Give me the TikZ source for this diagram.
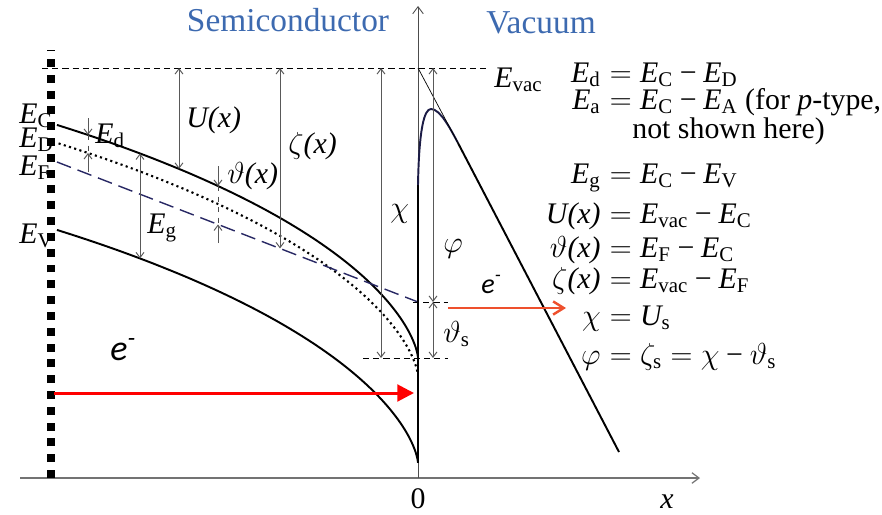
\documentclass[tikz,border=0pt]{standalone}
\usepackage{fontspec}
\setmainfont{Liberation Serif}
\newfontfamily\elecfont{Carlito}
\usetikzlibrary{arrows.meta}

\definecolor{semblue}{RGB}{61,106,176}
\definecolor{fermi}{RGB}{40,40,100}
\definecolor{emit}{RGB}{238,80,45}

\newcommand{\En}[1]{\mathit{E}_{\mathrm{#1}}}
\newcommand{\mi}{\mathbin{\mbox{−}}}

\tikzset{
  band/.style={line width=1.1pt},
  gap/.style={black!65, line width=0.55pt},
  guide/.style={dash pattern=on 3.5pt off 2.3pt, line width=0.45pt},
  lbl/.style={inner sep=0pt},
}

\begin{document}
\begin{tikzpicture}[x=0.02cm,y=-0.02cm,>={Straight Barb[length=3pt,width=4.5pt]},
  font=\fontsize{17}{20}\selectfont,
  declare function={ec(\s)=358+0.46*\s-6.47*\s^0.7; ef(\s)=162+0.3878*(\s-57);}]

\useasboundingbox (0,0) rectangle (882,514);

% Axes
\coordinate (O) at (418,478);
\draw[black!55, line width=0.7pt, -{Straight Barb[length=4pt,width=6pt]}]
    (20,478) -- (O) -- (700,478) coordinate (xend);
\draw[black!70, line width=0.5pt, -{Straight Barb[length=4pt,width=6pt]}]
    (O) -- (418,6) coordinate (yend);
\node[lbl,anchor=base] (zero) at (418,508) {0};
\node[lbl,anchor=base west] (xlab) at (660,508) {\textit{x}};

% Bulk boundary
\draw[line width=4.5pt, dash pattern=on 4.5pt off 4.5pt]
    (51,478) -- (51,50);

% Vacuum level
\draw[guide] (42,68) coordinate (vacL) -- (488,68) coordinate (vacR);
\node[lbl,anchor=base west] (Evac) at (494,87) {$\En{vac}$};

% Band edges
\draw[band] plot[domain=0.1:19, samples=70, smooth]
    ({418-\x*\x},{ec(\x*\x)});
\draw[line width=1.2pt, dash pattern=on 1.2pt off 1.9pt]
    plot[domain=0.8:19, samples=70, smooth] ({418-\x*\x},{ec(\x*\x)+18});
\draw[band] plot[domain=0.1:19, samples=70, smooth]
    ({418-\x*\x},{ec(\x*\x)+105});
\draw[fermi, line width=0.8pt, dash pattern=on 8.5pt off 4pt]
    (57,162) coordinate (FL) -- (418,302) coordinate (Fs);

% Surface and image barrier
\draw[line width=1.4pt] (418,463) -- (418,185) coordinate (b0);
\draw[fermi!70!black, line width=1.1pt]
    (b0) .. controls (419,130) and (424,109) .. (431,109)
         .. controls (440,109) and (450,128) .. (458,143) coordinate (b1);
\draw[line width=1.1pt] (b1) -- (619,452);
\draw[line width=0.4pt] (418,68) -- (b1);

% Surface levels
\draw[guide] (413,302) -- (448,302);
\draw[guide] (363,358) -- (448,358);

% Energy differences
\foreach \xx/\yy/\nm in {179/{ec(239)}/U, 280/{ef(280)}/ze, 381/358/chi, 433/302/phi}{
    \coordinate (\nm-top) at (\xx,68);
    \coordinate (\nm-bot) at (\xx,{\yy});
    \draw[gap,<->] (\nm-top) -- (\nm-bot);
}
\draw[gap,<->] (433,302) coordinate (ths-top) -- (433,358) coordinate (ths-bot);
\draw[gap,<->] (140,{ec(278)}) coordinate (g-top) -- (140,{ec(278)+105}) coordinate (g-bot);

% Ed and theta(x) markers
\draw[gap,->] (88,118) -- (88,{ec(330)}) coordinate (d-top);
\draw[gap,->] (88,172) -- (88,{ec(330)+18}) coordinate (d-bot);
\draw[black!70, line width=0.4pt, dashed] (d-top) -- (d-bot);
\draw[gap,->] (218,166) -- (218,{ec(200)}) coordinate (t-top);
\draw[gap,->] (218,243) -- (218,{ef(218)}) coordinate (t-bot);
\draw[black!70, line width=0.4pt, dashed] (t-top) -- (t-bot);

% Electrons
\draw[red, line width=1.7pt, -{Triangle[length=9.5pt,width=9.5pt]}]
    (54,393) coordinate (eL0) -- (414,393) coordinate (eL1);
\draw[emit, line width=1.4pt, -{Straight Barb[length=6pt,width=7.5pt]}]
    (448,308) coordinate (eR0) -- (566,308) coordinate (eR1);
\node[lbl,anchor=base west] (eL) at (110,360)
    {\fontsize{20.5}{22}\selectfont\elecfont\itshape e\textsuperscript{-}};
\node[lbl,anchor=base west] (eR) at (481,293)
    {\fontsize{16}{18}\selectfont\elecfont\itshape e\textsuperscript{-}};

% Labels
\node[lbl,anchor=base west] (lEc) at (19,123) {$\En{C}$};
\node[lbl,anchor=base west] (lEd) at (19,147) {$\En{D}$};
\node[lbl,anchor=base west] (lEf) at (19,175) {$\En{F}$};
\node[lbl,anchor=base west] (lEv) at (19,243) {$\En{V}$};
\node[lbl,anchor=base west] (lbEd) at (95,143) {$\En{d}$};
\node[lbl,anchor=base west] (lbEg) at (147,233) {$\En{g}$};
\node[lbl,anchor=base west] (lbU) at (186,127) {\textit{U(x)}};
\node[lbl,anchor=base west] (lbth) at (227,183) {$\vartheta$\textit{(x)}};
\node[lbl,anchor=base west] (lbze) at (288,153) {$\zeta$\textit{(x)}};
\node[lbl,anchor=base west] (lbchi) at (390,217) {$\chi$};
\node[lbl,anchor=base west] (lbphi) at (443,252) {$\varphi$};
\node[lbl,anchor=base west] (lbths) at (443,342) {$\vartheta_{\mathrm{s}}$};

% Regions
\node[lbl,anchor=base,text=semblue,font=\fontsize{19}{22}\selectfont]
    (semi) at (288,31) {Semiconductor};
\node[lbl,anchor=base,text=semblue,font=\fontsize{19}{22}\selectfont]
    (vac) at (541,33) {Vacuum};

% Definitions
\foreach \yy/\lside/\rside [count=\i] in {
    82/{$\En{d}$}/{$\En{C}\mi\En{D}$},
    109/{$\En{a}$}/{$\En{C}\mi\En{A}$ (for \textit{p}-type,},
    183/{$\En{g}$}/{$\En{C}\mi\En{V}$},
    223/{\textit{U(x)}}/{$\En{vac}\mi\En{C}$},
    257/{$\vartheta$\textit{(x)}}/{$\En{F}\mi\En{C}$},
    288/{$\zeta$\textit{(x)}}/{$\En{vac}\mi\En{F}$},
    325/{$\chi$}/{$\mathit{U}_{\mathrm{s}}$},
    364/{$\varphi$}/{$\zeta_{\mathrm{s}}=\chi\mi\vartheta_{\mathrm{s}}$}}{
    \node[lbl,anchor=base east] (lhs\i) at (601,\yy) {\lside};
    \node[lbl,anchor=base west] (rhs\i) at (601,\yy) {${}={}$\rside};
}
\node[lbl,anchor=base west] (note) at (632,138) {not shown here)};

\end{tikzpicture}
\end{document}
